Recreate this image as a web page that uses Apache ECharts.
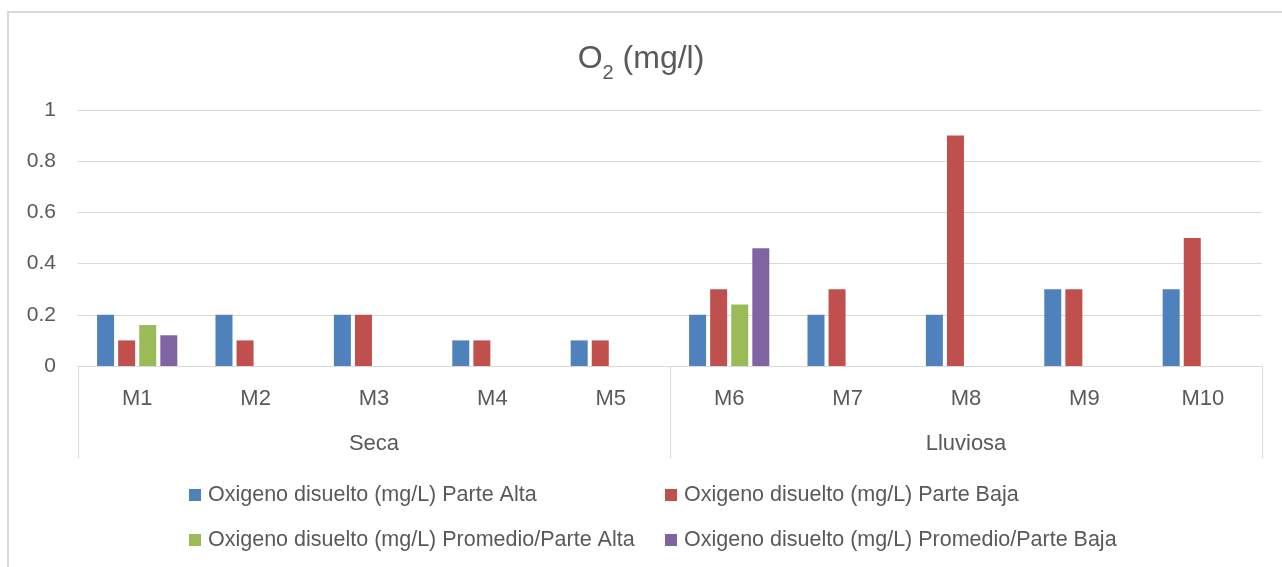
<!DOCTYPE html>
<html>
<head>
<meta charset="utf-8">
<script src="https://cdn.jsdelivr.net/npm/echarts@6/dist/echarts.min.js"></script>
<style>
html,body{margin:0;padding:0;background:#fff;}
#c{width:1282px;height:567px;}
</style>
</head>
<body>
<div id="c"></div>
<script>
const categories = ['M1','M2','M3','M4','M5','M6','M7','M8','M9','M10'];
const seasons = ['Seca','Lluviosa'];
const seriesNames = [
  'Oxigeno disuelto (mg/L) Parte Alta',
  'Oxigeno disuelto (mg/L) Parte Baja',
  'Oxigeno disuelto (mg/L) Promedio/Parte Alta',
  'Oxigeno disuelto (mg/L) Promedio/Parte Baja'
];
const parteAlta = [0.2,0.2,0.2,0.1,0.1,0.2,0.2,0.2,0.3,0.3];
const parteBaja = [0.1,0.1,0.2,0.1,0.1,0.3,0.3,0.9,0.3,0.5];
const promedioAlta = [0.16,null,null,null,null,0.24,null,null,null,null];
const promedioBaja = [0.12,null,null,null,null,0.46,null,null,null,null];
const yTicks = [0,0.2,0.4,0.6,0.8,1];

const colors = ['#4f81bd','#c0504d','#9bbb59','#8064a2'];
const txt = '#595959';
const grey = '#d9d9d9';
const FONT = 'Liberation Sans';

const chart = echarts.init(document.getElementById('c'), null, {renderer:'canvas'});
const values = [parteAlta, parteBaja, promedioAlta, promedioBaja];

const legendPos = [[189,484],[665,484],[189,529],[665,529]];

chart.setOption({
  animation:false,
  color: colors,
  textStyle:{fontFamily:FONT, color:txt},
  graphic:[{
    type:'rect', silent:true, z:-10,
    shape:{x:8, y:12, width:1400, height:700},
    style:{fill:'#fff', stroke:grey, lineWidth:2}
  }],
  title:{
    text:'{o|O}{s|2}{o| (mg/l)}',
    left:'center', top:38,
    textStyle:{
      fontWeight:'normal',
      rich:{
        o:{fontSize:32, fontWeight:'normal', color:txt, fontFamily:FONT, lineHeight:36, verticalAlign:'top'},
        s:{fontSize:20, fontWeight:'normal', color:txt, fontFamily:FONT, padding:[20,0,0,0], verticalAlign:'top'}
      }
    }
  },
  legend: seriesNames.map((n,i)=>({
    data:[n], left:legendPos[i][0], top:legendPos[i][1], padding:0,
    icon:'rect', itemWidth:12, itemHeight:12, itemGap:0,
    textStyle:{fontSize:21.5, color:txt, fontFamily:FONT, padding:[0,0,0,2]}
  })),
  grid:{left:78, right:20, top:110, bottom:201, containLabel:false},
  xAxis:[{
    type:'category', data:categories, position:'bottom',
    axisLine:{show:true, lineStyle:{color:grey, width:1}},
    axisTick:{show:false},
    axisLabel:{fontSize:22, color:txt, margin:22, fontFamily:FONT}
  },{
    type:'category', data:seasons, position:'bottom',
    axisLine:{show:false},
    axisTick:{show:true, length:92, interval:0, lineStyle:{color:grey, width:1}},
    axisLabel:{fontSize:22, color:txt, margin:67, fontFamily:FONT}
  }],
  yAxis:{
    type:'value', min:yTicks[0], max:yTicks[yTicks.length-1], interval:0.2,
    axisLine:{show:false}, axisTick:{show:false},
    splitLine:{lineStyle:{color:grey, width:1}},
    axisLabel:{fontSize:21, color:txt, margin:22, fontFamily:FONT,
      formatter:v=>String(Math.round(v*10)/10)}
  },
  series: seriesNames.map((n,i)=>({
    name:n, type:'bar', xAxisIndex:0, data:values[i],
    barWidth:17, barGap:'24%',
    itemStyle:{color:colors[i]}
  }))
});
</script>
</body>
</html>
